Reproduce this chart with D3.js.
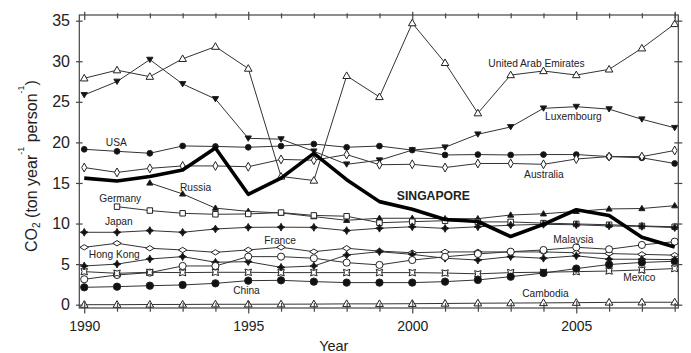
<!DOCTYPE html>
<html>
<head>
<meta charset="utf-8">
<script src="https://cdn.jsdelivr.net/npm/d3@7"></script>
<style>
  html, body { margin: 0; padding: 0; background: #fff; }
  svg { display: block; }
  text { font-family: "Liberation Sans", Arial, sans-serif; fill: #222; }
</style>
</head>
<body>
<script>
// ---------------- DATA ----------------
const years = [1990, 1991, 1992, 1993, 1994, 1995, 1996, 1997, 1998, 1999,
               2000, 2001, 2002, 2003, 2004, 2005, 2006, 2007, 2008];
const majorYears = [1990, 1995, 2000, 2005];
const yTicks = [0, 5, 10, 15, 20, 25, 30, 35];

const uae = [27.9, 28.9, 28.1, 30.3, 31.8, 29.1, 15.8, 15.3, 28.2, 25.6, 34.7, 29.8, 23.6, 28.3, 28.8, 28.3, 29.0, 31.6, 34.6];
const luxembourg = [25.85, 27.5, 30.2, 27.2, 25.35, 20.5, 20.4, 18.9, 17.3, 17.8, 19.05, 19.4, 21.0, 21.9, 24.2, 24.4, 24.1, 22.85, 21.8];
const usa = [19.15, 18.9, 18.66, 19.56, 19.5, 19.4, 19.55, 19.8, 19.4, 19.55, 19.05, 18.45, 18.5, 18.45, 18.5, 18.5, 18.25, 18.1, 17.4];
const australia = [16.9, 16.3, 16.8, 17.1, 17.1, 17.0, 17.9, 17.8, 18.5, 17.25, 17.3, 16.9, 17.4, 17.4, 17.3, 17.95, 18.25, 18.25, 19.0];
const singapore = [15.6, 15.25, 15.8, 16.6, 19.3, 13.6, 15.6, 18.65, 15.4, 12.7, 11.75, 10.5, 10.25, 8.4, 9.9, 11.7, 11.0, 8.3, 7.1];
const russia = [null, null, 15.0, 13.65, 11.9, 11.5, 11.3, 10.85, 10.4, 10.65, 10.65, 10.6, 10.6, 11.05, 11.2, 11.5, 11.8, 11.85, 12.2];
const germany = [null, 12.08, 11.6, 11.26, 11.14, 11.18, 11.35, 11.0, 10.9, 10.1, 10.23, 10.35, 10.2, 10.2, 10.05, 9.95, 9.85, 9.7, 9.6];
const japan = [8.92, 8.92, 9.13, 8.92, 9.33, 9.53, 9.55, 9.53, 9.13, 9.42, 9.6, 9.4, 9.6, 9.8, 9.9, 9.85, 9.7, 9.65, 9.5];
const france = [7.07, 7.57, 6.95, 6.74, 6.45, 6.75, 7.07, 6.53, 6.95, 6.6, 6.4, 6.5, 6.5, 6.5, 6.5, 6.4, 6.3, 6.2, 6.1];
const hongKong = [4.77, 5.0, 5.63, 5.92, 5.23, 5.3, 4.6, 4.77, 6.12, 6.53, 6.2, 5.72, 5.5, 5.92, 5.72, 6.02, 5.6, 5.6, 5.55];
const malaysia = [3.13, 3.66, 3.95, 4.77, 4.77, 5.92, 5.92, 5.72, 5.18, 4.9, 5.5, 5.9, 6.25, 6.53, 6.74, 7.07, 6.83, 7.36, 7.77];
const mexico = [4.07, 3.87, 3.99, 3.95, 3.99, 3.99, 3.95, 3.95, 3.95, 3.95, 3.95, 3.9, 3.8, 3.95, 4.0, 4.07, 4.15, 4.28, 4.45];
const china = [2.14, 2.22, 2.34, 2.43, 2.63, 2.96, 3.0, 2.84, 2.72, 2.72, 2.72, 2.84, 3.05, 3.45, 3.9, 4.45, 4.95, 5.2, 5.35];
const cambodia = [0.0, 0.0, 0.02, 0.03, 0.05, 0.05, 0.06, 0.07, 0.1, 0.1, 0.12, 0.15, 0.18, 0.2, 0.22, 0.25, 0.28, 0.3, 0.3];

// ---------------- MARKER SHAPES ----------------
const shapes = {
  triUp: { draw(c, s) { const r = Math.sqrt(s); c.moveTo(0, -r * 0.62); c.lineTo(r * 0.6, r * 0.42); c.lineTo(-r * 0.6, r * 0.42); c.closePath(); } },
  triDown: { draw(c, s) { const r = Math.sqrt(s); c.moveTo(0, r * 0.55); c.lineTo(r * 0.6, -r * 0.45); c.lineTo(-r * 0.6, -r * 0.45); c.closePath(); } },
  circle: d3.symbolCircle,
  square: { draw(c, s) { const r = Math.sqrt(s) / 2; c.rect(-r, -r, 2 * r, 2 * r); } },
  diamondTall: { draw(c, s) { const r = Math.sqrt(s); c.moveTo(0, -r * 0.6); c.lineTo(r * 0.34, 0); c.lineTo(0, r * 0.6); c.lineTo(-r * 0.34, 0); c.closePath(); } },
  diamondWide: { draw(c, s) { const r = Math.sqrt(s); c.moveTo(0, -r * 0.38); c.lineTo(r * 0.6, 0); c.lineTo(0, r * 0.38); c.lineTo(-r * 0.6, 0); c.closePath(); } },
  star4: { draw(c, s) { const r = Math.sqrt(s) * 0.55, k = r * 0.35; c.moveTo(0, -r); c.lineTo(k, -k); c.lineTo(r, 0); c.lineTo(k, k); c.lineTo(0, r); c.lineTo(-k, k); c.lineTo(-r, 0); c.lineTo(-k, -k); c.closePath(); } },
  pinched: { draw(c, s) { const r = Math.sqrt(s) / 2, q = r * 0.35; c.moveTo(-r, -r); c.quadraticCurveTo(0, -q, r, -r); c.quadraticCurveTo(q, 0, r, r); c.quadraticCurveTo(0, q, -r, r); c.quadraticCurveTo(-q, 0, -r, -r); c.closePath(); } }
};

const series = [
  { name: "uae", values: uae, shape: "triUp", size: 40, fill: "#fff" },
  { name: "lux", values: luxembourg, shape: "triDown", size: 28, fill: "#111" },
  { name: "usa", values: usa, shape: "circle", size: 26, fill: "#111" },
  { name: "aus", values: australia, shape: "diamondTall", size: 55, fill: "#fff" },
  { name: "rus", values: russia, shape: "triUp", size: 26, fill: "#111" },
  { name: "deu", values: germany, shape: "square", size: 30, fill: "#fff" },
  { name: "jpn", values: japan, shape: "star4", size: 50, fill: "#111" },
  { name: "fra", values: france, shape: "diamondWide", size: 50, fill: "#fff" },
  { name: "hkg", values: hongKong, shape: "star4", size: 50, fill: "#111" },
  { name: "mys", values: malaysia, shape: "circle", size: 40, fill: "#fff" },
  { name: "mex", values: mexico, shape: "pinched", size: 42, fill: "#fff" },
  { name: "chn", values: china, shape: "circle", size: 42, fill: "#111" },
  { name: "khm", values: cambodia, shape: "triUp", size: 42, fill: "#fff" },
  { name: "sgp", values: singapore, shape: null, thick: true }
];

// ---------------- CHART ----------------
const W = 691, H = 353;
const svg = d3.select("body").append("svg").attr("width", W).attr("height", H);

const x = d3.scaleLinear().domain([1989.85, 2008.11]).range([79.3, 678.3]);
const y = d3.scaleLinear().domain([-0.41, 35.7]).range([308, 15]);
const [x0, x1] = x.range();
const [yb, yt] = y.range();

const line = d3.line().defined(d => d[1] != null).x(d => x(d[0])).y(d => y(d[1]));

const plot = svg.append("g");
series.forEach(s => {
  const pts = years.map((yr, i) => [yr, s.values[i]]);
  plot.append("path")
    .attr("d", line(pts))
    .attr("fill", "none")
    .attr("stroke", s.thick ? "#000" : "#333")
    .attr("stroke-width", s.thick ? 3.6 : 1)
    .attr("stroke-linejoin", "round");
  if (s.shape) {
    const sym = d3.symbol().type(shapes[s.shape]).size(s.size);
    plot.selectAll(null).data(pts.filter(d => d[1] != null)).enter()
      .append("path")
      .attr("d", sym)
      .attr("transform", d => `translate(${x(d[0])},${y(d[1])})`)
      .attr("fill", s.fill)
      .attr("stroke", "#222")
      .attr("stroke-width", 1);
  }
});

// frame
svg.append("rect").attr("x", x0).attr("y", yt).attr("width", x1 - x0).attr("height", yb - yt)
  .attr("fill", "none").attr("stroke", "#444").attr("stroke-width", 1.2);

function styleAxis(g) {
  g.select(".domain").remove();
  g.selectAll(".tick line").attr("stroke", "#444").attr("stroke-width", 1.2);
}
const minorYears = years.filter(v => !majorYears.includes(v));

// bottom axis
svg.append("g").attr("transform", `translate(0,${yb})`)
  .call(d3.axisBottom(x).tickValues(minorYears).tickSize(3.7).tickFormat("")).call(styleAxis);
svg.append("g").attr("transform", `translate(0,${yb})`)
  .call(d3.axisTop(x).tickValues(minorYears).tickSize(5).tickFormat("")).call(styleAxis);
svg.append("g").attr("transform", `translate(0,${yb})`)
  .call(d3.axisTop(x).tickValues(majorYears).tickSize(7).tickFormat("")).call(styleAxis);
const bx = svg.append("g").attr("transform", `translate(0,${yb})`)
  .call(d3.axisBottom(x).tickValues(majorYears).tickSize(5.5).tickPadding(8).tickFormat(d3.format("d")))
  .call(styleAxis);
bx.selectAll("text").attr("font-size", 14).attr("fill", "#222");

// top axis
svg.append("g").attr("transform", `translate(0,${yt})`)
  .call(d3.axisTop(x).tickValues(minorYears).tickSize(1.7).tickFormat("")).call(styleAxis);
svg.append("g").attr("transform", `translate(0,${yt})`)
  .call(d3.axisBottom(x).tickValues(minorYears).tickSize(3.3).tickFormat("")).call(styleAxis);
svg.append("g").attr("transform", `translate(0,${yt})`)
  .call(d3.axisTop(x).tickValues(majorYears.concat([2008])).tickSize(3.3).tickFormat("")).call(styleAxis);
svg.append("g").attr("transform", `translate(0,${yt})`)
  .call(d3.axisBottom(x).tickValues(majorYears.concat([2008])).tickSize(5).tickFormat("")).call(styleAxis);

// left axis
const ly = svg.append("g").attr("transform", `translate(${x0},0)`)
  .call(d3.axisLeft(y).tickValues(yTicks).tickSize(3.3).tickPadding(6).tickFormat(d3.format("d")))
  .call(styleAxis);
ly.selectAll("text").attr("font-size", 16).attr("fill", "#222");
svg.append("g").attr("transform", `translate(${x0},0)`)
  .call(d3.axisRight(y).tickValues(yTicks).tickSize(3.3).tickFormat("")).call(styleAxis);

// right axis
svg.append("g").attr("transform", `translate(${x1},0)`)
  .call(d3.axisRight(y).tickValues(yTicks).tickSize(4).tickFormat("")).call(styleAxis);
svg.append("g").attr("transform", `translate(${x1},0)`)
  .call(d3.axisLeft(y).tickValues(yTicks).tickSize(4).tickFormat("")).call(styleAxis);

// axis titles
svg.append("text").attr("x", (x0 + x1) / 2 - 45).attr("y", 351)
  .attr("text-anchor", "middle").attr("font-size", 14.5).text("Year");

const yt_ = svg.append("text").attr("transform", "translate(37,166) rotate(-90)")
  .attr("text-anchor", "middle").attr("font-size", 16);
yt_.append("tspan").text("CO");
yt_.append("tspan").attr("font-size", 10).attr("dy", 3).text("2");
yt_.append("tspan").attr("dy", -3).text(" (ton year");
yt_.append("tspan").attr("font-size", 9).attr("dy", -13).text("-1");
yt_.append("tspan").attr("dy", 13).text(" person");
yt_.append("tspan").attr("font-size", 9).attr("dy", -13).text("-1");
yt_.append("tspan").attr("dy", 13).text(")");

// in-plot labels (positioned in data coordinates)
const labels = [
  { text: "United Arab Emirates", at: [2002.32, 29.3] },
  { text: "Luxembourg", at: [2004.05, 22.7] },
  { text: "Australia", at: [2003.41, 15.6] },
  { text: "USA", at: [1990.66, 19.56] },
  { text: "SINGAPORE", at: [1999.53, 12.9], bold: true },
  { text: "Russia", at: [1992.92, 14.07] },
  { text: "Germany", at: [1990.46, 12.66] },
  { text: "Japan", at: [1990.63, 9.76] },
  { text: "Hong Kong", at: [1990.14, 5.76] },
  { text: "France", at: [1995.49, 7.48] },
  { text: "China", at: [1994.54, 1.32] },
  { text: "Malaysia", at: [2004.30, 7.6] },
  { text: "Mexico", at: [2006.43, 2.86] },
  { text: "Cambodia", at: [2003.35, 0.95] }
];
svg.append("g").selectAll("text").data(labels).enter().append("text")
  .attr("x", d => x(d.at[0])).attr("y", d => y(d.at[1]))
  .attr("font-size", d => d.bold ? 12.2 : 10.2)
  .attr("font-weight", d => d.bold ? "bold" : "normal")
  .attr("fill", d => d.bold ? "#000" : "#333")
  .text(d => d.text);
</script>
</body>
</html>
